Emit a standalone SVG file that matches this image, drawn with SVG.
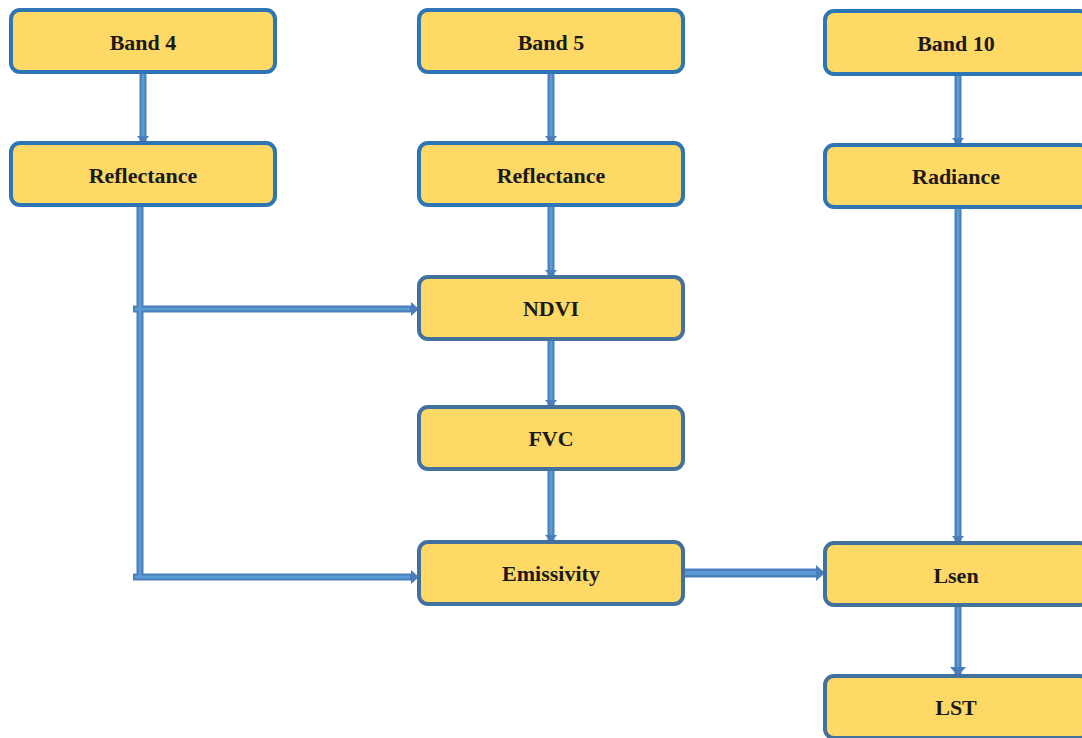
<svg xmlns="http://www.w3.org/2000/svg" width="1082" height="738" viewBox="0 0 1082 738">
<style>
.box{fill:#FFD966;stroke-width:4}
.b1{stroke:#2E75B6}
.b2{stroke:#41719C}
.t{font-family:"Liberation Serif","Times New Roman",serif;font-weight:bold;font-size:22px;fill:#1a1a1a;text-anchor:middle;dominant-baseline:central}
.c{fill:none;stroke:#4A7EBB;stroke-width:7}
.ci{fill:none;stroke:#5B9BD5;stroke-width:3}
.ah{fill:#4A7EBB}
</style>
<rect width="1082" height="738" fill="#ffffff"/>
<g id="connectors">
<path class="c" d="M143 73V142M551 73V142M958 75V144M551 206V276M551 340V406M551 470V541M958 208V542M958 606V675M140 206V580M133 309H414M133 577H414"/>
<path class="ci" d="M143 74V138M551 74V138M958 76V140M551 207V272M551 341V402M551 471V537M958 209V538M958 607V671M140 207V578M135 309H410M135 577H410"/>
<path class="c" style="stroke-width:9" d="M684 573H818"/>
<path class="ci" style="stroke-width:4" d="M685 573H816"/>
<polygon class="ah" points="137,136 149,136 143,143"/>
<polygon class="ah" points="545,136 557,136 551,143"/>
<polygon class="ah" points="952,138 964,138 958,145"/>
<polygon class="ah" points="545,270 557,270 551,277"/>
<polygon class="ah" points="545,400 557,400 551,407"/>
<polygon class="ah" points="545,535 557,535 551,542"/>
<polygon class="ah" points="952,536 964,536 958,543"/>
<polygon class="ah" points="950,667 966,667 958,676"/>
<polygon class="ah" points="411,302 411,316 419,309"/>
<polygon class="ah" points="411,570 411,584 419,577"/>
<polygon class="ah" points="816,565 816,581 825,573"/>
</g>
<g id="band4"><rect class="box b1" x="11" y="10" width="264" height="62" rx="9"/><text class="t" x="143" y="42">Band 4</text></g>
<g id="refl4"><rect class="box b1" x="11" y="143" width="264" height="62" rx="9"/><text class="t" x="143" y="175">Reflectance</text></g>
<g id="band5"><rect class="box b1" x="419" y="10" width="264" height="62" rx="9"/><text class="t" x="551" y="42">Band 5</text></g>
<g id="refl5"><rect class="box b1" x="419" y="143" width="264" height="62" rx="9"/><text class="t" x="551" y="175">Reflectance</text></g>
<g id="ndvi"><rect class="box b2" x="419" y="277" width="264" height="62" rx="9"/><text class="t" x="551" y="308">NDVI</text></g>
<g id="fvc"><rect class="box b2" x="419" y="407" width="264" height="62" rx="9"/><text class="t" x="551" y="438">FVC</text></g>
<g id="emissivity"><rect class="box b2" x="419" y="542" width="264" height="62" rx="9"/><text class="t" x="551" y="573">Emissivity</text></g>
<g id="band10"><rect class="box b1" x="825" y="11" width="264" height="63" rx="9"/><text class="t" x="956" y="43">Band 10</text></g>
<g id="radiance"><rect class="box b1" x="825" y="145" width="264" height="62" rx="9"/><text class="t" x="956" y="176">Radiance</text></g>
<g id="lsen"><rect class="box b2" x="825" y="543" width="264" height="62" rx="9"/><text class="t" x="956" y="575">Lsen</text></g>
<g id="lst"><rect class="box b2" x="825" y="676" width="264" height="62" rx="9"/><text class="t" x="956" y="707">LST</text></g>
</svg>
